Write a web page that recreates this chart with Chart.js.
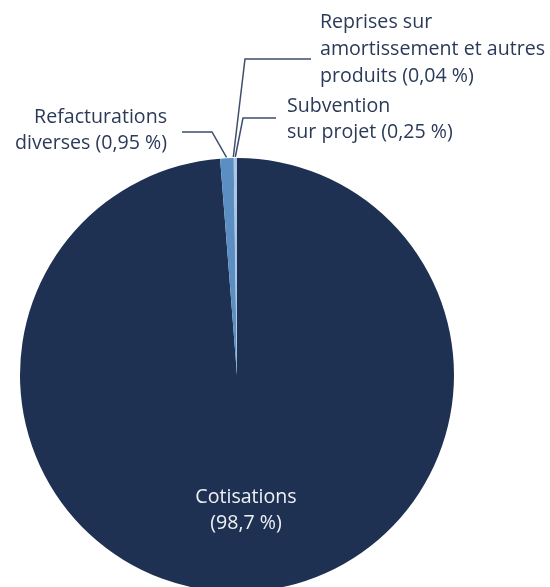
<!DOCTYPE html>
<html>
<head>
<meta charset="utf-8">
<script src="https://cdn.jsdelivr.net/npm/chart.js@4/dist/chart.umd.min.js"></script>
<style>
html,body{margin:0;padding:0;background:#fff;}
#wrap{width:550px;height:587px;position:relative;}
</style>
</head>
<body>
<div id="wrap"><canvas id="c" width="550" height="587"></canvas></div>
<script>
const categories = ["Cotisations", "Refacturations diverses", "Reprises sur amortissement et autres produits", "Subvention sur projet"];
const values = [98.7, 0.95, 0.04, 0.25];
const labelLines = [
  ["Cotisations", "(98,7 %)"],
  ["Refacturations", "diverses (0,95 %)"],
  ["Reprises sur", "amortissement et autres", "produits (0,04 %)"],
  ["Subvention", "sur projet (0,25 %)"]
];
const colors = ["#1f3152", "#5b8fc4", "#2c4874", "#a8c8e9"];

const FONT = '19.6px "Open Sans", "Noto Sans", sans-serif';
const TXT = "#2b3a58";
const LINE = "#3e4e6c";

const labelLayout = [
  {x: 246, y: 497, lh: 26, align: "center", color: "#eef1f6"},
  {x: 167, y: 117, lh: 26, align: "right", elbow: [212, 132], end: [182, 132]},
  {x: 320, y: 22, lh: 27, align: "left", elbow: [245, 59], end: [311, 59]},
  {x: 287, y: 106, lh: 26, align: "left", elbow: [243, 118], end: [276, 118]}
];

const labelPlugin = {
  id: "labels",
  afterDatasetsDraw(chart) {
    const ctx = chart.ctx;
    const arcs = chart.getDatasetMeta(0).data;
    ctx.save();
    ctx.font = FONT;
    ctx.textBaseline = "middle";
    arcs.forEach((arc, i) => {
      const L = labelLayout[i];
      if (L.elbow) {
        const p = arc.getProps(["x", "y", "startAngle", "endAngle", "outerRadius"], true);
        const mid = (p.startAngle + p.endAngle) / 2;
        const r = p.outerRadius + 1;
        const ax = p.x + Math.cos(mid) * r;
        const ay = p.y + Math.sin(mid) * r;
        ctx.strokeStyle = LINE;
        ctx.lineWidth = 1.5;
        ctx.beginPath();
        ctx.moveTo(ax, ay);
        ctx.lineTo(L.elbow[0], L.elbow[1]);
        ctx.lineTo(L.end[0], L.end[1]);
        ctx.stroke();
      }
      ctx.fillStyle = L.color || TXT;
      ctx.textAlign = L.align;
      labelLines[i].forEach((t, k) => {
        ctx.fillText(t, L.x, L.y + k * L.lh);
      });
    });
    ctx.restore();
  }
};

new Chart(document.getElementById("c"), {
  type: "pie",
  data: {
    labels: categories,
    datasets: [{
      data: values,
      backgroundColor: colors,
      borderColor: colors,
      borderWidth: 0
    }]
  },
  options: {
    responsive: false,
    animation: false,
    radius: 217,
    layout: {padding: {left: 20, right: 96, top: 163, bottom: 0}},
    plugins: {legend: {display: false}, tooltip: {enabled: false}}
  },
  plugins: [labelPlugin]
});
</script>
</body>
</html>
